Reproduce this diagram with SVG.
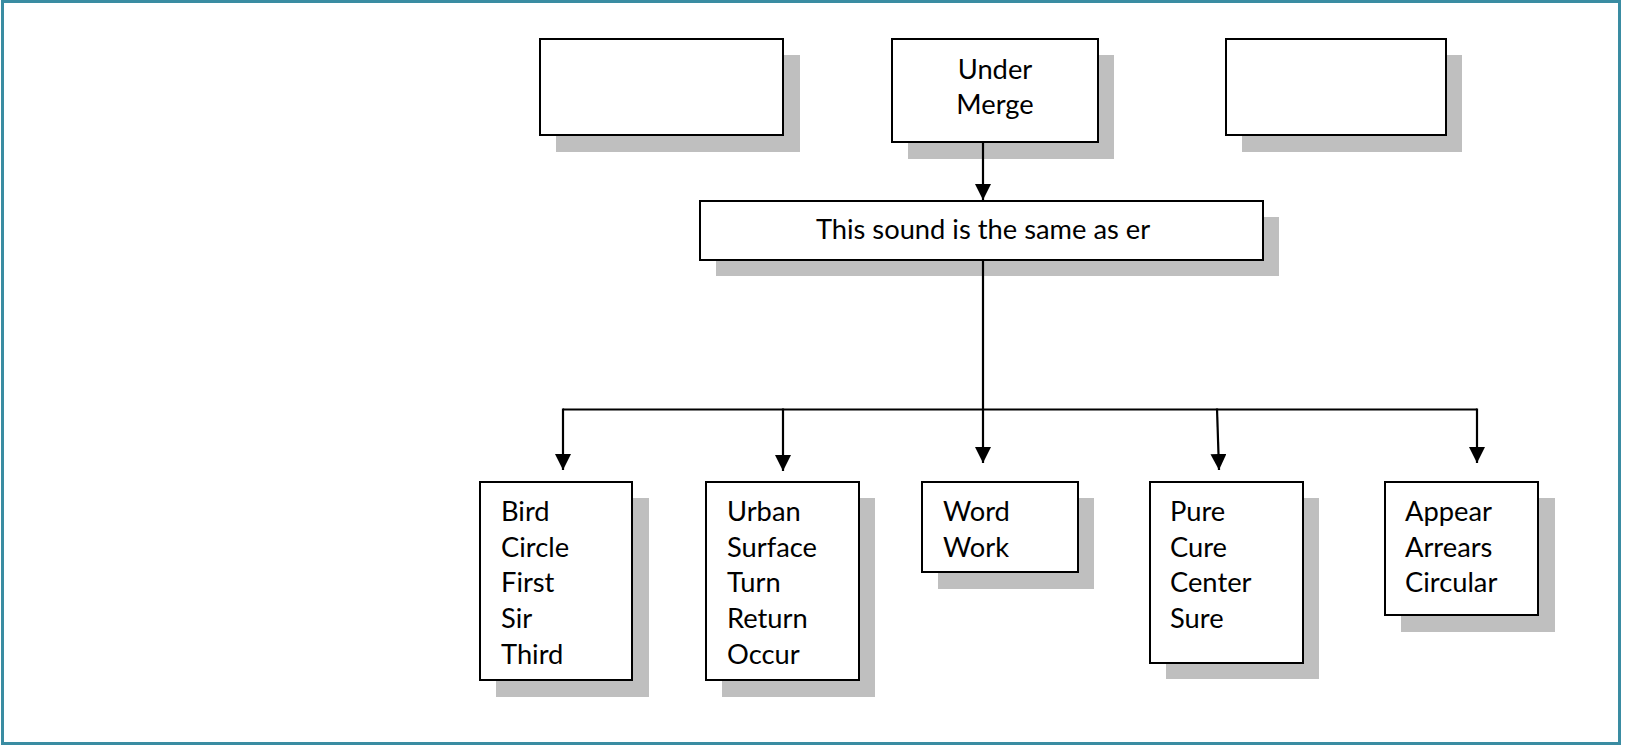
<svg xmlns="http://www.w3.org/2000/svg" width="1644" height="747" viewBox="0 0 1644 747">
<style>
.box{fill:#ffffff;stroke:#000000;stroke-width:2}
.sh{fill:#bfbfbf}
.t{font-family:Lato,"Open Sans",sans-serif;font-size:27.3px;fill:#000000}
.c{stroke:#000000;stroke-width:2.2;fill:none}
</style>
<defs>
<marker id="ah" markerUnits="userSpaceOnUse" markerWidth="16" markerHeight="16" refX="16" refY="8" orient="auto"><path d="M0,0 L16,8 L0,16 z" fill="#000"/></marker>
</defs>
<rect x="2.5" y="1.5" width="1617" height="742" fill="#ffffff" stroke="#3a8ca2" stroke-width="3"/>
<g id="box-top-left">
<rect class="sh" x="556" y="55" width="244" height="97"/>
<rect class="box" x="540" y="39" width="243" height="96"/>
</g>
<g id="box-under-merge">
<rect class="sh" x="908" y="55" width="206" height="104"/>
<rect class="box" x="892" y="39" width="206" height="103"/>
<text class="t" x="995" y="79" text-anchor="middle">Under</text>
<text class="t" x="995" y="114" text-anchor="middle">Merge</text>
</g>
<g id="box-top-right">
<rect class="sh" x="1242" y="55" width="220" height="97"/>
<rect class="box" x="1226" y="39" width="220" height="96"/>
</g>
<g id="box-same-as-er">
<rect class="sh" x="716" y="217" width="563" height="59"/>
<rect class="box" x="700" y="201" width="563" height="59"/>
<text class="t" x="983" y="239" text-anchor="middle">This sound is the same as er</text>
</g>
<g id="box-bird">
<rect class="sh" x="496" y="498" width="153" height="199"/>
<rect class="box" x="480" y="482" width="152" height="198"/>
<text class="t" x="501" y="521">Bird</text>
<text class="t" x="501" y="557">Circle</text>
<text class="t" x="501" y="592">First</text>
<text class="t" x="501" y="628">Sir</text>
<text class="t" x="501" y="664">Third</text>
</g>
<g id="box-urban">
<rect class="sh" x="722" y="498" width="153" height="199"/>
<rect class="box" x="706" y="482" width="153" height="198"/>
<text class="t" x="727" y="521">Urban</text>
<text class="t" x="727" y="557">Surface</text>
<text class="t" x="727" y="592">Turn</text>
<text class="t" x="727" y="628">Return</text>
<text class="t" x="727" y="664">Occur</text>
</g>
<g id="box-word">
<rect class="sh" x="938" y="498" width="156" height="91"/>
<rect class="box" x="922" y="482" width="156" height="90"/>
<text class="t" x="943" y="521">Word</text>
<text class="t" x="943" y="557">Work</text>
</g>
<g id="box-pure">
<rect class="sh" x="1166" y="498" width="153" height="181"/>
<rect class="box" x="1150" y="482" width="153" height="181"/>
<text class="t" x="1170" y="521">Pure</text>
<text class="t" x="1170" y="557">Cure</text>
<text class="t" x="1170" y="592">Center</text>
<text class="t" x="1170" y="628">Sure</text>
</g>
<g id="box-appear">
<rect class="sh" x="1401" y="498" width="154" height="134"/>
<rect class="box" x="1385" y="482" width="153" height="133"/>
<text class="t" x="1405" y="521">Appear</text>
<text class="t" x="1405" y="557">Arrears</text>
<text class="t" x="1405" y="592">Circular</text>
</g>
<g id="connectors">
<path class="c" d="M983,142 V200" marker-end="url(#ah)"/>
<path class="c" d="M983,260 V463" marker-end="url(#ah)"/>
<path class="c" d="M563,409.5 H1477"/>
<path class="c" d="M563,408.5 V470" marker-end="url(#ah)"/>
<path class="c" d="M783,408.5 V471" marker-end="url(#ah)"/>
<path class="c" d="M1217,408.5 L1219,470" marker-end="url(#ah)"/>
<path class="c" d="M1477,408.5 V463" marker-end="url(#ah)"/>
</g>
</svg>
